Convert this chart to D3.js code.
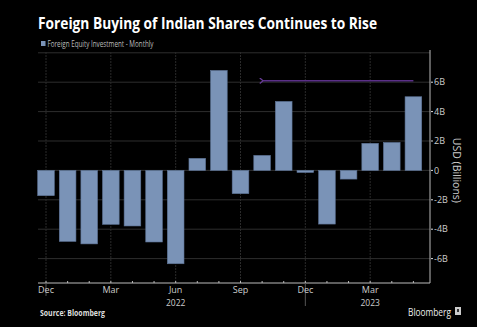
<!DOCTYPE html>
<html>
<head>
<meta charset="utf-8">
<script src="https://cdn.jsdelivr.net/npm/d3@7"></script>
<style>
  body { margin: 0; background: #000; }
  text { font-family: "Open Sans", "DejaVu Sans", sans-serif; }
</style>
</head>
<body>
<div id="chart"></div>
<script>
  // monthly foreign equity flows, Dec 2021 .. May 2023 (USD bn)
  var months = ["Dec 21","Jan 22","Feb 22","Mar 22","Apr 22","May 22","Jun 22","Jul 22","Aug 22",
                "Sep 22","Oct 22","Nov 22","Dec 22","Jan 23","Feb 23","Mar 23","Apr 23","May 23"];
  var flows = [-1.72, -4.83, -5.0, -3.67, -3.78, -4.87, -6.35, 0.82, 6.8,
               -1.58, 1.02, 4.69, -0.14, -3.65, -0.59, 1.84, 1.9, 5.01];
  var monthLabels = ["Dec","","","Mar","","","Jun","","","Sep","","","Dec","","","Mar","",""];
  var yearLabels = ["","","","","","","2022","","","","","","","","","2023","",""];
  var yTicks = [-6, -4, -2, 0, 2, 4, 6];
  var gridValues = [-6, -4, -2, 0, 2, 4, 6, 8];
  // arrow annotation: from May 23 back to Oct 22, at 6.1bn
  var arrowFrom = "May 23", arrowTo = "Oct 22", arrowLevel = 6.1;

  var width = 477, height = 327;
  var plotL = 38, plotR = 430, plotT = 52, plotB = 283;

  var svg = d3.select("#chart").append("svg")
              .attr("width", width)
              .attr("height", height)
              .style("background", "#000");

  var x = d3.scaleBand()
            .domain(months)
            .range([35.2, 424.2])
            .paddingInner(0.23)
            .paddingOuter(0.115);
  var y = d3.scaleLinear()
            .domain([-7.66, 8])
            .range([plotB, plotT + 0.8]);

  var cx = function(m) { return x(m) + x.bandwidth() / 2; };

  // horizontal grid
  svg.append("g").selectAll("line")
     .data(gridValues)
     .enter().append("line")
     .attr("x1", plotL).attr("x2", plotR)
     .attr("y1", function(d) { return y(d); })
     .attr("y2", function(d) { return y(d); })
     .style("stroke", "#2e2e2e")
     .style("stroke-width", 1);

  // vertical grid at labelled months
  svg.append("g").selectAll("line")
     .data(months.filter(function(m, i) { return monthLabels[i] != ""; }))
     .enter().append("line")
     .attr("x1", cx).attr("x2", cx)
     .attr("y1", plotT).attr("y2", plotB)
     .style("stroke", "#2a2a2a")
     .style("stroke-dasharray", "2,1");

  // bars
  svg.append("g").selectAll("rect")
     .data(flows)
     .enter().append("rect")
     .attr("x", function(d, i) { return x(months[i]); })
     .attr("width", x.bandwidth())
     .attr("y", function(d) { return y(Math.max(0, d)); })
     .attr("height", function(d) { return Math.abs(y(d) - y(0)); })
     .attr("fill", "#7a93b7")
     .style("stroke", "#5d7396")
     .style("stroke-width", 0.6);

  // arrow
  svg.append("defs").append("marker")
     .attr("id", "head")
     .attr("viewBox", "0 0 10 10")
     .attr("refX", 1).attr("refY", 5)
     .attr("markerWidth", 4).attr("markerHeight", 4)
     .attr("orient", "auto-start-reverse")
     .append("path")
     .attr("d", "M7,0 L1,5 L7,10")
     .style("fill", "none")
     .style("stroke", "#6a3d9a")
     .style("stroke-width", 2.2);
  svg.append("line")
     .attr("x1", cx(arrowFrom)).attr("x2", cx(arrowTo) + 1)
     .attr("y1", y(arrowLevel)).attr("y2", y(arrowLevel))
     .style("stroke", "#5b3089")
     .style("stroke-width", 1.4)
     .attr("marker-end", "url(#head)");

  // right axis
  svg.append("line")
     .attr("x1", plotR).attr("x2", plotR)
     .attr("y1", plotT - 2).attr("y2", plotB)
     .style("stroke", "#bbb").style("stroke-width", 1);
  var yt = svg.append("g").selectAll("g")
     .data(yTicks)
     .enter().append("g")
     .attr("transform", function(d) { return "translate(" + plotR + "," + y(d) + ")"; });
  yt.append("line")
     .attr("x1", 1).attr("x2", 3)
     .style("stroke", "#ddd");
  yt.append("text")
     .attr("x", 4).attr("dy", "0.35em")
     .style("fill", "#ccc").style("font-size", "9px")
     .text(function(d) { return d == 0 ? "0" : d + "B"; });

  svg.append("text")
     .attr("transform", "translate(453," + y(0) + ") rotate(90)")
     .attr("text-anchor", "middle")
     .style("fill", "#ccc").style("font-size", "10.5px")
     .text("USD (Billions)");

  // bottom axis
  svg.append("line")
     .attr("x1", plotL).attr("x2", plotR)
     .attr("y1", plotB).attr("y2", plotB)
     .style("stroke", "#bbb");
  svg.append("g").selectAll("line")
     .data(months)
     .enter().append("line")
     .attr("x1", cx).attr("x2", cx)
     .attr("y1", plotB).attr("y2", plotB - 2)
     .style("stroke", "#bbb");
  // year separators under December
  svg.append("g").selectAll("line")
     .data(months.filter(function(m) { return m.indexOf("Dec") == 0; }))
     .enter().append("line")
     .attr("x1", cx).attr("x2", cx)
     .attr("y1", plotB).attr("y2", function(d, i) { return i == 0 ? 296 : 306; })
     .style("stroke", "#555");

  svg.append("g").selectAll("text")
     .data(months)
     .enter().append("text")
     .attr("x", cx).attr("y", 293)
     .attr("text-anchor", "middle")
     .style("fill", "#ccc").style("font-size", "9px")
     .text(function(d, i) { return monthLabels[i]; });
  svg.append("g").selectAll("text")
     .data(months)
     .enter().append("text")
     .attr("x", cx).attr("y", 305.5)
     .attr("text-anchor", "middle")
     .style("fill", "#ccc").style("font-size", "8.5px")
     .text(function(d, i) { return yearLabels[i]; });

  // title and legend
  svg.append("text")
     .attr("x", 38).attr("y", 29)
     .attr("textLength", 339).attr("lengthAdjust", "spacingAndGlyphs")
     .style("fill", "#fff").style("font-size", "16.5px").style("font-weight", "bold")
     .text("Foreign Buying of Indian Shares Continues to Rise");
  svg.append("rect")
     .attr("x", 41).attr("y", 41).attr("width", 4.5).attr("height", 5)
     .attr("fill", "#7a93b7");
  svg.append("text")
     .attr("x", 47.5).attr("y", 47)
     .attr("textLength", 106).attr("lengthAdjust", "spacingAndGlyphs")
     .style("fill", "#bbb").style("font-size", "8.5px")
     .text("Foreign Equity Investment - Monthly");

  // footer
  svg.append("text")
     .attr("x", 40).attr("y", 316)
     .attr("textLength", 65).attr("lengthAdjust", "spacingAndGlyphs")
     .style("fill", "#ddd").style("font-size", "8.5px").style("font-weight", "bold")
     .text("Source: Bloomberg");
  svg.append("text")
     .attr("x", 408).attr("y", 316)
     .attr("textLength", 43).attr("lengthAdjust", "spacingAndGlyphs")
     .style("fill", "#eee").style("font-size", "10px")
     .text("Bloomberg");
  svg.append("rect")
     .attr("x", 455).attr("y", 307).attr("width", 6).attr("height", 8)
     .attr("fill", "#ccc");
  svg.append("rect")
     .attr("x", 457).attr("y", 309).attr("width", 2).attr("height", 3)
     .attr("fill", "#333");
</script>
</body>
</html>
